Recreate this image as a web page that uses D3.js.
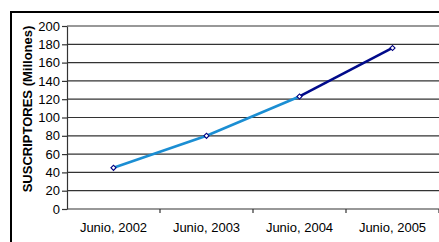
<!DOCTYPE html>
<html>
<head>
<meta charset="utf-8">
<script src="https://cdn.jsdelivr.net/npm/d3@7"></script>
<style>
  body { margin: 0; background: #fff; }
  svg { display: block; font-family: "Liberation Sans", Arial, sans-serif; }
</style>
</head>
<body>
<svg width="439" height="242"></svg>
<script>
var periods = ['Junio, 2002', 'Junio, 2003', 'Junio, 2004', 'Junio, 2005'];
var subscribers = [45, 80, 123, 176];
var yTicks = [0, 20, 40, 60, 80, 100, 120, 140, 160, 180, 200];

var width      = 439;
var height     = 242;
var plotLeft   = 67;
var plotTop    = 26;
var plotBottom = 209;

var svg = d3.select('svg')
        .attr('width', width)
        .attr('height', height);

// outer frame, runs off the right and bottom edges
svg.append('rect')
        .attr('x', 11)
        .attr('y', 12)
        .attr('width', 440)
        .attr('height', 240)
        .attr('fill', 'none')
        .attr('stroke', '#000')
        .attr('stroke-width', 2);

var xScale = d3.scaleBand()
                    .domain(periods)
                    .range([plotLeft, width]);

var yScale = d3.scaleLinear()
                    .domain([0, 200])
                    .range([plotBottom, plotTop]);

// gridlines
svg.append('g')
    .selectAll('line')
    .data(yTicks.filter(d => d > 0))
    .enter()
    .append('line')
        .attr('x1', plotLeft)
        .attr('x2', width)
        .attr('y1', d => yScale(d))
        .attr('y2', d => yScale(d))
        .attr('stroke', '#333')
        .attr('stroke-width', 1.2);

var yAxis = d3.axisLeft(yScale)
                    .tickValues(yTicks)
                    .tickSize(5)
                    .tickSizeOuter(0)
                    .tickPadding(2);

var yG = svg.append('g')
        .attr('transform', 'translate(' + plotLeft + ', 0)')
        .call(yAxis);
yG.selectAll('text').attr('font-size', 13).attr('fill', '#000').attr('font-family', 'Liberation Sans, Arial, sans-serif');
yG.selectAll('line, path').attr('stroke', '#333').attr('stroke-width', 1.2);

// x axis with ticks between categories
var xG = svg.append('g')
        .attr('transform', 'translate(0, ' + plotBottom + ')');
xG.append('line')
        .attr('x1', plotLeft)
        .attr('x2', width)
        .attr('stroke', '#333')
        .attr('stroke-width', 1.2);
xG.selectAll('.tk')
    .data(periods)
    .enter()
    .append('line')
        .attr('class', 'tk')
        .attr('x1', d => xScale(d) + xScale.bandwidth())
        .attr('x2', d => xScale(d) + xScale.bandwidth())
        .attr('y1', 0)
        .attr('y2', 4)
        .attr('stroke', '#333')
        .attr('stroke-width', 1.2);
xG.selectAll('text')
    .data(periods)
    .enter()
    .append('text')
        .attr('x', d => xScale(d) + xScale.bandwidth() / 2)
        .attr('y', 23)
        .attr('text-anchor', 'middle')
        .attr('font-size', 13)
        .text(d => d);

// line in two coloured pieces
var points = periods.map((p, i) => ({ x: xScale(p) + xScale.bandwidth() / 2, y: yScale(subscribers[i]) }));
var line = d3.line().x(d => d.x).y(d => d.y);

svg.append('path')
        .attr('d', line(points.slice(0, 3)))
        .attr('fill', 'none')
        .attr('stroke', '#1b8ed3')
        .attr('stroke-width', 2.6);

svg.append('path')
        .attr('d', line(points.slice(2)))
        .attr('fill', 'none')
        .attr('stroke', '#000a8a')
        .attr('stroke-width', 2.6);

svg.selectAll('.mk')
    .data(points)
    .enter()
    .append('path')
        .attr('class', 'mk')
        .attr('d', d3.symbol(d3.symbolSquare, 13))
        .attr('transform', d => 'translate(' + d.x + ',' + d.y + ') rotate(45)')
        .attr('fill', '#fff')
        .attr('stroke', '#000080')
        .attr('stroke-width', 1.1);

svg.append('text')
        .attr('transform', 'rotate(-90)')
        .attr('x', -109)
        .attr('y', 32)
        .attr('text-anchor', 'middle')
        .attr('font-size', 13)
        .attr('font-weight', 'bold')
        .text('SUSCRIPTORES (Millones)');
</script>
</body>
</html>
